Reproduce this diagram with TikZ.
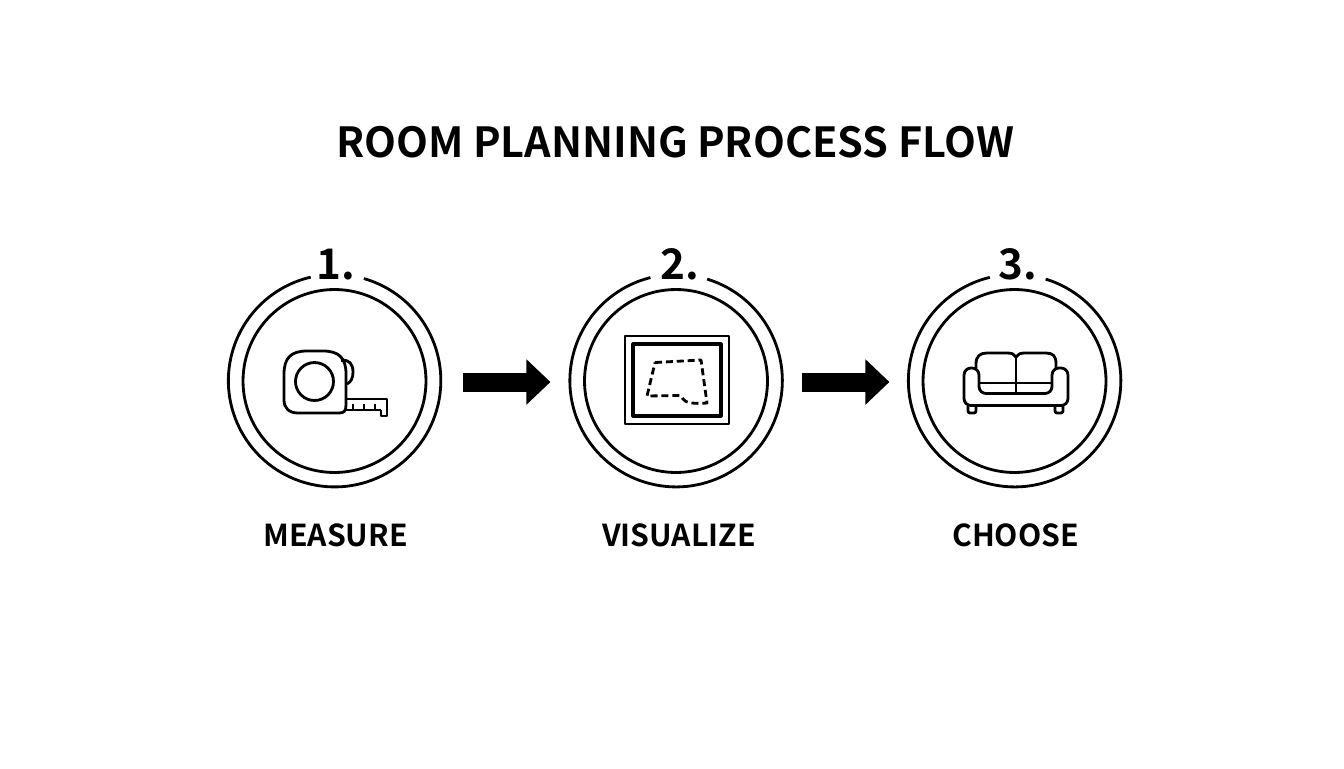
\documentclass[tikz,border=0pt]{standalone}
\usepackage{fontspec}
\setmainfont{Noto Sans CJK SC}[BoldFont={* Bold}]
\usetikzlibrary{arrows.meta}
\tikzset{>=latex}

\begin{document}
\begin{tikzpicture}[x=0.02cm, y=-0.02cm, line join=round]
    \tikzset{%
      ring/.style={draw, circle, line width=1.6pt, minimum size=3.66cm, inner sep=0pt},
      slot/.style={circle, minimum size=4.25cm, inner sep=0pt},
      stepno/.style={font=\fontsize{24}{24}\selectfont\bfseries, inner sep=0pt, anchor=base},
      steplabel/.style={font=\fontsize{17.2}{18}\selectfont\bfseries, inner sep=0pt, anchor=base},
      outline/.style={line width=1.6pt},
      thin outline/.style={line width=1.2pt},
      flow/.style={line width=0.38cm, -{Triangle[length=0.48cm, width=0.88cm]}}
      }
    \useasboundingbox (0,0) rectangle (1344,768);

    \node [font=\fontsize{23.6}{25}\selectfont\bfseries, inner sep=0pt, anchor=base] (title) at (675.5,157) {ROOM PLANNING PROCESS FLOW};

    \node [ring] (Rmeasure) at (334.5,381) {};
    \node [slot] (Smeasure) at (334.5,381) {};
    \node [stepno] (Nmeasure) at (336,279) {1.};
    \draw [outline] (Smeasure.74) arc [start angle=74, end angle=-257, radius=2.125cm];
    \node [steplabel] (Lmeasure) at (335.5,546) {MEASURE};

    \node [ring] (Rvisualize) at (676,381) {};
    \node [slot] (Svisualize) at (676,381) {};
    \node [stepno] (Nvisualize) at (680,279) {2.};
    \draw [outline] (Svisualize.73) arc [start angle=73, end angle=-256, radius=2.125cm];
    \node [steplabel] (Lvisualize) at (679,546) {VISUALIZE};

    \node [ring] (Rchoose) at (1014.5,381) {};
    \node [slot] (Schoose) at (1014.5,381) {};
    \node [stepno] (Nchoose) at (1018,279) {3.};
    \draw [outline] (Schoose.73) arc [start angle=73, end angle=-256.5, radius=2.125cm];
    \node [steplabel] (Lchoose) at (1015.5,546) {CHOOSE};

    \draw [flow, shorten <=0.44cm, shorten >=0.38cm] ([yshift=-0.02cm]Smeasure.east) -- ([yshift=-0.02cm]Svisualize.west);
    \draw [flow, shorten <=0.38cm, shorten >=0.37cm] ([yshift=-0.02cm]Svisualize.east) -- ([yshift=-0.02cm]Schoose.west);

    % tape measure
    \draw [outline] (284,374) .. controls (284,358) and (291,351) .. (307,351) -- (323,351) .. controls (339,351) and (346,358) .. (346,374) -- (346,405) .. controls (346,411) and (344,413) .. (339,413) -- (298,413) .. controls (289,413) and (284,408) .. (284,400) -- cycle;
    \draw [outline] (314.5,381.5) circle [radius=0.38cm];
    \draw [outline] (341,360.5) .. controls (349,359) and (353,364) .. (353,372) .. controls (353,378) and (351,382) .. (347,384);
    \draw [outline] (346,399) -- (387,399) -- (387,416) -- (381,416) -- (381,410);
    \draw [thin outline] (346,410) -- (381,410);
    \draw [thin outline] (353,410) -- (353,404) (364,410) -- (364,404) (375,410) -- (375,404);

    % floor plan
    \draw [outline] (625,336) rectangle (729,424);
    \draw [line width=1.8pt] (633,344) rectangle (721,416);
    \draw [outline, dashed, dash pattern=on 4pt off 2.2pt] (655,362.5) -- (701,360) -- (707,403) .. controls (695,404) and (685,403) .. (683,399) .. controls (681,396) and (681,395.5) .. (677,395.5) -- (647,396) -- cycle;

    % sofa
    \draw [outline] (976,368) -- (976,364) .. controls (976,356) and (980,353) .. (987,353) -- (1007,353) .. controls (1012,353) and (1014,354) .. (1016,357) .. controls (1018,354) and (1020,353) .. (1025,353) -- (1046,353) .. controls (1053,353) and (1056,356) .. (1056,364) -- (1056,368);
    \draw [outline] (1016,357) -- (1016,393);
    \draw [outline] (979,383) -- (1052,383);
    \draw [outline, rounded corners=0.14cm] (979,393.5) -- (979,368) -- (964,368) -- (964,405.5) -- (1068,405.5) -- (1068,368) -- (1052,368) -- (1052,393.5) -- cycle;
    \draw [outline, rounded corners=0.04cm] (968,406) -- (968,413) -- (976,413) -- (976,406);
    \draw [outline, rounded corners=0.04cm] (1055,406) -- (1055,413) -- (1063,413) -- (1063,406);
\end{tikzpicture}
\end{document}
